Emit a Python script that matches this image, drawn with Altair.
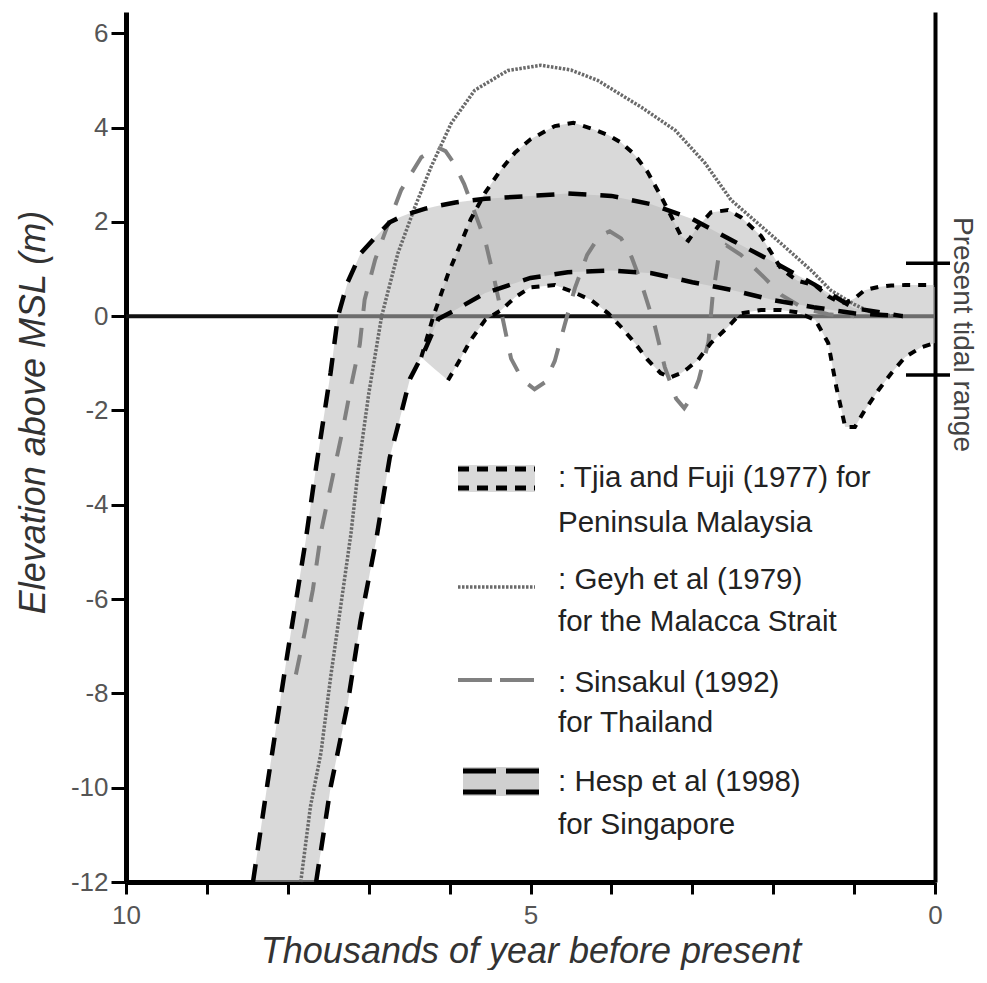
import altair as alt
import pandas as pd

FONT = "Liberation Sans, Arial, sans-serif"

# ---- data ----
# Hesp et al (1998): upper and lower envelope (ka BP, m)
hesp_age   = [8.43, 8.25, 8.02, 7.78, 7.65, 7.47, 7.38, 7.26, 7.10, 6.91, 6.74, 6.61, 6.49, 6.30,
              6.14, 5.93, 5.56, 5.00, 4.54, 4.00, 3.50, 3.00, 2.50, 2.00, 1.50, 1.00, 0.40]
hesp_upper = [-12.0, -9.9, -7.33, -4.77, -3.2, -1.19, 0.0, 0.72, 1.33, 1.69, 1.99, 2.10, 2.18, 2.28,
              2.34, 2.41, 2.49, 2.55, 2.60, 2.55, 2.37, 2.06, 1.60, 1.15, 0.68, 0.17, 0.0]
hesp_lower = [-12.0, -12.0, -12.0, -12.0, -12.0, -9.98, -9.23, -8.22, -6.46, -4.77, -3.0, -2.14, -1.33, -0.70,
              -0.06, 0.13, 0.49, 0.81, 0.93, 0.97, 0.91, 0.72, 0.55, 0.34, 0.19, 0.06, 0.0]

# Tjia and Fuji (1977): upper and lower envelope
tjia_age   = [6.35, 6.20, 6.02, 5.86, 5.74, 5.56, 5.36, 5.19, 5.00, 4.70, 4.47, 4.25, 4.04, 3.88,
              3.71, 3.55, 3.39, 3.27, 3.14, 3.05, 2.93, 2.77, 2.56, 2.40, 2.15, 1.90, 1.70, 1.48,
              1.32, 1.22, 1.11, 0.99, 0.87, 0.70, 0.54, 0.37, 0.17, 0.0]
tjia_upper = [-0.87, 0.0, 0.89, 1.55, 2.05, 2.62, 3.12, 3.47, 3.75, 4.03, 4.10, 3.98, 3.84, 3.68,
              3.42, 3.05, 2.55, 2.15, 1.70, 1.60, 1.90, 2.20, 2.25, 2.10, 1.70, 1.00, 0.75, 0.65,
              0.42, 0.33, 0.28, 0.38, 0.55, 0.62, 0.65, 0.66, 0.66, 0.66]
tjia_lower = [-0.87, -1.10, -1.36, -0.89, -0.51, -0.08, 0.13, 0.40, 0.61, 0.66, 0.51, 0.34, 0.06, -0.23,
              -0.57, -0.93, -1.21, -1.30, -1.21, -1.10, -0.93, -0.57, -0.23, 0.06, 0.13, 0.13, 0.08, -0.08,
              -0.57, -1.50, -2.35, -2.35, -2.00, -1.57, -1.21, -0.87, -0.66, -0.57]

# Geyh et al (1979)
geyh_age  = [7.84, 7.72, 7.59, 7.47, 7.34, 7.22, 7.13, 7.00, 6.84, 6.64, 6.43, 6.23, 5.98, 5.69,
             5.28, 4.87, 4.50, 4.17, 3.63, 3.21, 2.84, 2.52, 2.19, 1.85, 1.53, 1.29, 1.00, 0.75, 0.50]
geyh_elev = [-12.0, -10.4, -9.26, -7.65, -6.08, -4.62, -3.26, -1.65, 0.0, 1.33, 2.31, 3.16, 4.09, 4.79,
             5.21, 5.32, 5.22, 5.00, 4.43, 3.94, 3.24, 2.46, 1.97, 1.46, 0.97, 0.55, 0.25, 0.05, 0.0]

# Sinsakul (1992)
sins_age  = [7.90, 7.79, 7.69, 7.58, 7.42, 7.32, 7.22, 7.11, 7.05, 6.92, 6.75, 6.60, 6.35, 6.15,
             6.05, 5.95, 5.82, 5.69, 5.56, 5.45, 5.35, 5.24, 5.10, 4.95, 4.82, 4.70, 4.58, 4.45,
             4.30, 4.15, 4.02, 3.88, 3.75, 3.63, 3.46, 3.34, 3.20, 3.10, 3.00, 2.92, 2.80, 2.75,
             2.68, 2.58, 2.40, 2.25, 2.10, 1.90, 1.63, 1.32, 1.00]
sins_elev = [-7.6, -6.7, -5.8, -4.5, -3.2, -2.4, -1.5, -0.6, 0.35, 1.2, 2.0, 2.67, 3.37, 3.58,
             3.5, 3.25, 2.8, 2.2, 1.6, 0.8, 0.0, -0.9, -1.35, -1.55, -1.4, -0.95, -0.2, 0.6,
             1.3, 1.7, 1.8, 1.65, 1.25, 0.7, -0.23, -1.08, -1.75, -1.95, -1.7, -1.35, -0.55, 0.4,
             1.2, 1.5, 1.3, 1.05, 0.8, 0.45, 0.17, 0.04, 0.0]

tidal_range = [1.12, -1.25]
x_ticks = list(range(0, 11))
y_ticks = list(range(-12, 7, 2))

legend_text = [
    ": Tjia and Fuji (1977) for", "Peninsula Malaysia",
    ": Geyh et al (1979)", "for the Malacca Strait",
    ": Sinsakul (1992)", "for Thailand",
    ": Hesp et al (1998)", "for Singapore",
]

hesp = pd.DataFrame({"age": hesp_age, "upper": hesp_upper, "lower": hesp_lower})
tjia = pd.DataFrame({"age": tjia_age, "upper": tjia_upper, "lower": tjia_lower})
geyh = pd.DataFrame({"age": geyh_age, "elev": geyh_elev})
sins = pd.DataFrame({"age": sins_age, "elev": sins_elev})
tide = pd.DataFrame({"tide": tidal_range})
one = pd.DataFrame({"k": [0]})

# ---- encodings ----
xscale = alt.Scale(domain=[0, 10], reverse=True, nice=False, zero=False)
yscale = alt.Scale(domain=[-12, 6.45], nice=False, zero=False)

xaxis = alt.Axis(values=x_ticks, labelExpr="datum.value % 5 == 0 ? datum.label : ''",
                 tickSize=12, tickWidth=3, tickColor="black", domainWidth=5, domainColor="black",
                 labelFontSize=26, labelColor="#555", labelFont=FONT, labelPadding=8,
                 labelFlush=False, labelOverlap=False, grid=False,
                 titleFont=FONT, titleFontSize=36, titleFontStyle="italic", titleFontWeight="normal",
                 titleColor="#333", titlePadding=6)
yaxis = alt.Axis(values=y_ticks, tickSize=15, tickWidth=3, tickColor="black", domainWidth=5,
                 domainColor="black", labelFontSize=26, labelColor="#555", labelFont=FONT,
                 labelExpr="(datum.value < 0 ? '-' : '') + abs(datum.value)",
                 labelPadding=3, labelFlush=False, labelOverlap=False, grid=False,
                 titleFont=FONT, titleFontSize=36, titleFontStyle="italic", titleFontWeight="normal",
                 titleColor="#333", titlePadding=18, titleY=400)


def X():
    return alt.X("age:Q", scale=xscale, axis=xaxis, title="Thousands of year before present")


def Y(field):
    return alt.Y(f"{field}:Q", scale=yscale, axis=yaxis, title="Elevation above MSL (m)")


FILL = "#bababa"
FOP = 0.55

zero = alt.Chart(one).mark_rule(color="#111", strokeWidth=4).encode(y=alt.datum(0))

hesp_band = alt.Chart(hesp).mark_area(color=FILL, opacity=FOP).encode(
    x=X(), y=Y("upper"), y2="lower")
tjia_band = alt.Chart(tjia).mark_area(color=FILL, opacity=FOP).encode(
    x=X(), y=Y("upper"), y2="lower")

geyh_line = alt.Chart(geyh).mark_line(color="#6a6a6a", strokeWidth=3.5, strokeDash=[2.5, 1.5]).encode(
    x=X(), y=Y("elev"))
sins_line = alt.Chart(sins).mark_line(color="#808080", strokeWidth=4, strokeDash=[20, 17]).encode(
    x=X(), y=Y("elev"))

tjia_up = alt.Chart(tjia).mark_line(color="black", strokeWidth=4, strokeDash=[8, 8]).encode(
    x=X(), y=Y("upper"))
tjia_lo = alt.Chart(tjia).transform_filter("datum.age <= 6.02").mark_line(
    color="black", strokeWidth=4, strokeDash=[8, 8]).encode(x=X(), y=Y("lower"))

hesp_up = alt.Chart(hesp).mark_line(color="black", strokeWidth=4.5, strokeDash=[18, 14]).encode(
    x=X(), y=Y("upper"))
hesp_lo = alt.Chart(hesp).transform_filter("datum.age <= 7.65").mark_line(
    color="black", strokeWidth=4.5, strokeDash=[18, 14]).encode(x=X(), y=Y("lower"))

# ---- legend (drawn by hand) ----
leg = []
leg.append(alt.Chart(one).mark_rect(color="#d9d9d9").encode(
    x=alt.value(332), x2=alt.value(409), y=alt.value(453), y2=alt.value(480)))
for yy in (457, 476):
    leg.append(alt.Chart(one).mark_rule(color="black", strokeWidth=5, strokeDash=[11, 8]).encode(
        x=alt.value(332), x2=alt.value(409), y=alt.value(yy)))
leg.append(alt.Chart(one).mark_rule(color="#6a6a6a", strokeWidth=3.5, strokeDash=[2.5, 1.5]).encode(
    x=alt.value(332), x2=alt.value(409), y=alt.value(575)))
leg.append(alt.Chart(one).mark_rule(color="#808080", strokeWidth=4, strokeDash=[34, 8]).encode(
    x=alt.value(332), x2=alt.value(409), y=alt.value(668)))
leg.append(alt.Chart(one).mark_rect(color="#d0d0d0").encode(
    x=alt.value(337), x2=alt.value(413), y=alt.value(755), y2=alt.value(784)))
for yy in (759, 780):
    leg.append(alt.Chart(one).mark_rule(color="black", strokeWidth=5, strokeDash=[33, 10]).encode(
        x=alt.value(337), x2=alt.value(413), y=alt.value(yy)))

text_y = [466, 511, 568, 610, 671, 711, 770, 813]
for txt, yy in zip(legend_text, text_y):
    leg.append(alt.Chart(one).mark_text(align="left", baseline="middle", font=FONT, fontSize=29.5,
                                        color="#222").encode(
        x=alt.value(432), y=alt.value(yy), text=alt.value(txt)))

# ---- right axis with present tidal range ----
tide_layer = alt.Chart(tide).mark_rule(color="black", strokeWidth=3.5).encode(
    y=alt.Y("tide:Q", scale=yscale,
            axis=alt.Axis(orient="right", ticks=False, labels=False, domainWidth=4,
                          domainColor="black", grid=False, title="Present   tidal range",
                          titleAngle=90, titleFont=FONT, titleFontSize=28, titleFontWeight="normal",
                          titleColor="#444", titlePadding=12, titleY=322)),
    x=alt.value(780), x2=alt.value(824))

main = alt.layer(zero, hesp_band, tjia_band, geyh_line, sins_line, tjia_up, tjia_lo,
                 hesp_up, hesp_lo, *leg)

chart = alt.layer(main, tide_layer).resolve_axis(y="independent").properties(
    width=809, height=870,
    padding={"left": 118, "top": 4, "right": 44, "bottom": 88},
    autosize=alt.AutoSizeParams(type="none"),
).configure_view(stroke=None)

chart.save("out.html", embed_options={"renderer": "svg", "actions": False})
